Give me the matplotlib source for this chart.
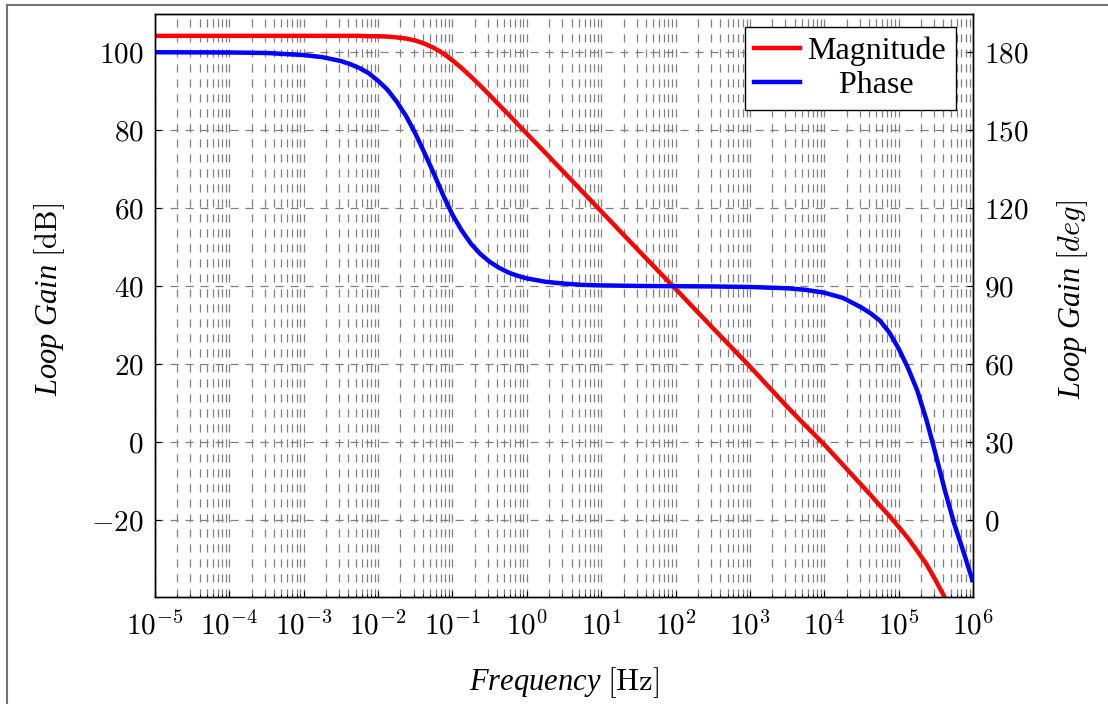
import numpy as np
import matplotlib
matplotlib.use("Agg")
import matplotlib.pyplot as plt
from matplotlib.ticker import FuncFormatter, LogLocator, FixedLocator
from matplotlib.lines import Line2D

plt.rcParams['mathtext.fontset'] = 'cm'
plt.rcParams['font.family'] = ['Liberation Serif', 'DejaVu Serif']

# values (frequency as log10 of Hz)
log_freq = [-5, -4, -3.5, -3, -2.75, -2.5, -2.375, -2.25, -2.125, -2,
            -1.875, -1.75, -1.625, -1.5, -1.375, -1.25, -1.125, -1, -0.875, -0.75,
            -0.625, -0.5, -0.375, -0.25, -0.125, 0, 0.25, 0.5, 0.75, 1,
            1.5, 2, 2.5, 3, 3.5, 3.75, 4, 4.25, 4.5, 4.625,
            4.75, 4.875, 5, 5.125, 5.25, 5.375, 5.5, 5.625, 5.75, 5.875, 6]
magnitude_db = [104.2, 104.2, 104.2, 104.2, 104.2, 104.2, 104.2, 104.2, 104.1, 104.1,
                104.0, 103.8, 103.5, 103.0, 102.2, 101.1, 99.7, 97.9, 95.9, 93.7,
                91.4, 89.0, 86.5, 84.1, 81.6, 79.1, 74.2, 69.2, 64.2, 59.2,
                49.2, 39.3, 29.3, 19.4, 9.1, 4.2, -0.6, -5.8, -11.0, -13.6,
                -16.3, -18.9, -21.7, -24.6, -27.9, -31.3, -35.5, -40.0, -44.9, -50.0, -55.3]
phase_deg = [180.0, 179.9, 179.7, 178.9, 178.1, 176.6, 175.4, 173.9, 171.9, 169.0,
             165.6, 161.0, 155.5, 148.8, 141.2, 133.3, 125.0, 117.5, 111.4, 106.3,
             102.4, 99.4, 97.1, 95.3, 94.0, 93.0, 91.7, 91.0, 90.5, 90.3,
             90.1, 90.0, 89.9, 89.7, 89.2, 88.6, 87.5, 85.5, 81.8, 79.5,
             76.7, 72.2, 66.0, 58.6, 49.9, 38.5, 25.1, 11.1, -1.6, -12.4, -23.8]

db_ticks = [-20, 0, 20, 40, 60, 80, 100]
deg_ticks = [0, 30, 60, 90, 120, 150, 180]
decades = list(range(-5, 7))

freq = 10.0 ** np.array(log_freq)

fig = plt.figure(figsize=(11.08, 7.04), dpi=100)
ax = fig.add_axes([155/1108, 107/704, 818/1108, 583/704])
ax2 = ax.twinx()

ax.plot(freq, magnitude_db, color='#ff0000', lw=3.2, solid_capstyle='butt', solid_joinstyle='round')
ax2.plot(freq, phase_deg, color='#0000ff', lw=3.2, solid_capstyle='butt', solid_joinstyle='round')

ax.set_xscale('log')
ax.set_xlim(1e-5, 1e6)
ylo, yhi = -39.7, 109.8
ax.set_ylim(ylo, yhi)
ax2.set_ylim(1.5 * (ylo + 20), 1.5 * (yhi + 20))

ax.xaxis.set_major_locator(FixedLocator([10.0 ** k for k in decades]))
ax.xaxis.set_minor_locator(LogLocator(base=10, subs=np.arange(2, 10), numticks=100))
ax.xaxis.set_major_formatter(FuncFormatter(lambda v, p: r'$10^{%d}$' % int(round(np.log10(v)))))
ax.set_yticks(db_ticks)
ax.yaxis.set_major_formatter(FuncFormatter(lambda v, p: r'$%g$' % v))
ax2.set_yticks(deg_ticks)
ax2.yaxis.set_major_formatter(FuncFormatter(lambda v, p: r'$%g$' % v))

dash = (0, (6.5, 5.5))
ax.grid(which='major', color='0.5', lw=0.9, ls=dash)
ax.grid(which='minor', axis='x', color='0.5', lw=0.9, ls=dash)
ax.set_axisbelow(True)

for a in (ax, ax2):
    a.tick_params(which='major', direction='in', length=4, width=0.8, labelsize=21)
    a.tick_params(which='minor', direction='in', length=2, width=0.6)
    for s in a.spines.values():
        s.set_linewidth(1.0)
ax.tick_params(axis='x', pad=10)
ax.tick_params(axis='y', pad=8)
ax2.tick_params(axis='y', pad=8)

ax.set_xlabel(r'Frequency $[\mathrm{Hz}]$', fontsize=22, fontstyle='italic')
ax.set_ylabel(r'Loop Gain $[\mathrm{dB}]$', fontsize=22, fontstyle='italic')
ax2.set_ylabel(r'Loop Gain $[deg]$', fontsize=22, fontstyle='italic')
ax.xaxis.set_label_coords(0.5, -0.117)
ax.yaxis.set_label_coords(-0.108, 0.51)
ax2.yaxis.set_label_coords(1.100, 0.51)

handles = [Line2D([], [], color='#ff0000', lw=3.2),
           Line2D([], [], color='#0000ff', lw=3.2)]
leg = ax2.legend(handles, ['Magnitude', '    Phase'], loc='upper right',
                 bbox_to_anchor=(0.979, 0.978), borderaxespad=0, fontsize=23,
                 fancybox=False, framealpha=1, edgecolor='black',
                 handlelength=1.41, handletextpad=0.25, borderpad=0.3, labelspacing=0.15)
leg.get_frame().set_linewidth(1.0)

# outer frame of the page
fig.add_artist(Line2D([7/1108, 1], [1 - 5/704, 1 - 5/704], color='0.45', lw=1.5))
fig.add_artist(Line2D([7/1108, 7/1108], [0, 1 - 5/704], color='0.45', lw=1.5))

fig.savefig('out.png', dpi=100)
